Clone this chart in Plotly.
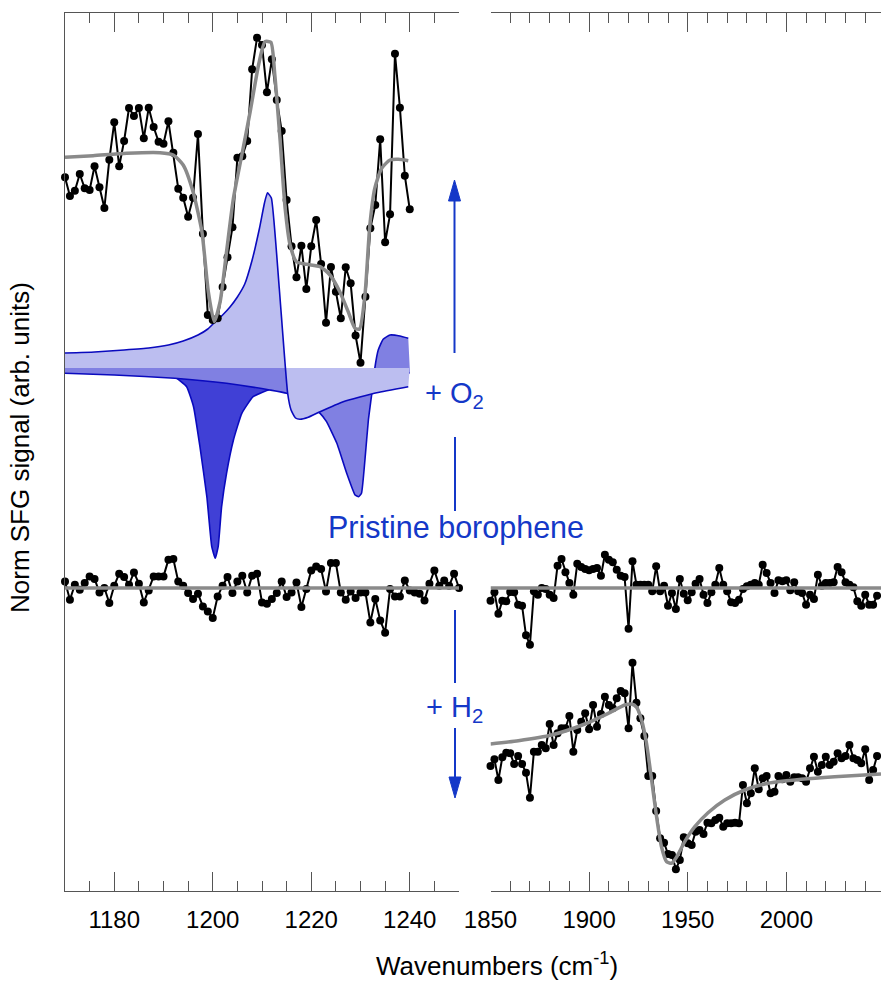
import plotly.graph_objects as go

# ---------------------------------------------------------------
# Wavenumber grids (cm^-1)
# ---------------------------------------------------------------
wn_o2 = list(range(1170, 1241))            # O2-exposed, low-frequency window
wn_pristine_low = list(range(1170, 1251))  # pristine, low-frequency window
wn_high = [1850 + 2 * i for i in range(99)]  # high-frequency window (2 cm^-1 step)

# Vertical offsets used to stack the spectra
OFFSET_O2 = 2.20
OFFSET_PRISTINE = 0.0
OFFSET_H2 = -2.00

# ---------------------------------------------------------------
# + O2 spectrum (1170-1240 cm^-1), relative to its offset
# ---------------------------------------------------------------
sfg_o2 = [
    1.907, 1.720, 1.773, 1.940, 1.797, 1.780, 2.017, 1.807, 1.600, 2.083,
    2.457, 2.017, 2.270, 2.600, 2.520, 2.600, 2.297, 2.603, 2.410, 2.263,
    2.243, 2.467, 2.153, 1.793, 1.703, 1.513, 1.703, 2.340, 1.343, 0.530,
    0.480, 0.497, 0.810, 1.107, 1.407, 2.103, 2.117, 2.270, 2.987, 3.303,
    3.230, 2.757, 3.087, 2.680, 2.370, 1.680, 1.217, 0.907, 1.223, 0.790,
    1.217, 1.480, 1.040, 0.453, 1.010, 0.763, 0.497, 1.007, 0.847, 0.325,
    0.053, 0.713, 1.397, 1.630, 2.287, 1.257, 1.537, 3.143, 2.603, 1.923,
    1.587,
]

fit_o2_wn = [1170, 1175.7, 1182.5, 1189.3, 1192, 1194, 1196, 1197.8, 1199.1,
             1200.3, 1201.5, 1202.8, 1204.2, 1205.9, 1207.6, 1209.3, 1210.6,
             1211.8, 1212.6, 1213.7, 1214.7, 1215.7, 1217, 1219.1, 1221.8,
             1223.8, 1225.8, 1227.5, 1228.9, 1229.8, 1230.9, 1231.9, 1232.9,
             1234.3, 1236, 1237.7, 1239.7]
fit_o2 = [2.107, 2.123, 2.147, 2.153, 2.130, 2.030, 1.763, 1.363, 0.763,
          0.463, 0.663, 1.163, 1.697, 2.130, 2.563, 3.030, 3.263,
          3.257, 2.930, 2.263, 1.597, 1.230, 1.063, 1.037, 1.013,
          0.930, 0.763, 0.563, 0.397, 0.390, 0.730, 1.430, 1.797,
          1.997, 2.080, 2.087, 2.073]

# Resonance components of the O2 fit: A (light), B (dark), C (medium)
comp_a_wn = [1170, 1176, 1182, 1187, 1191, 1194, 1197, 1199, 1200.5, 1202,
             1203.5, 1205, 1206.5, 1208, 1209.5, 1210.5, 1211.1, 1211.9,
             1213.5, 1215.2, 1215.9, 1216.8, 1217.7, 1219.4, 1221.8, 1226.5,
             1233.3, 1239.7]
comp_a = [0.150, 0.160, 0.180, 0.200, 0.230, 0.270, 0.330, 0.390, 0.463, 0.530,
          0.610, 0.710, 0.840, 1.080, 1.400, 1.650, 1.753, 1.700,
          0.800, -0.250, -0.420, -0.500, -0.513, -0.493, -0.437, -0.337,
          -0.247, -0.187]

comp_b_wn = [1170, 1180, 1188, 1192.3, 1194.7, 1196.1, 1197.4, 1198.8, 1199.8,
             1200.5, 1201.1, 1201.8, 1202.8, 1204.2, 1205.9, 1208.2, 1211.6,
             1215, 1220, 1230, 1240]
comp_b = [-0.040, -0.055, -0.075, -0.093, -0.187, -0.387, -0.787, -1.287, -1.787,
          -1.903, -1.787, -1.387, -1.053, -0.720, -0.453, -0.287, -0.215,
          -0.190, -0.120, -0.070, -0.050]

comp_c_wn = [1170, 1180, 1192.3, 1202.8, 1211.6, 1215, 1218.5, 1221.8, 1223.1,
             1225.2, 1227.2, 1228.9, 1229.6, 1230.2, 1230.9, 1231.6, 1232.3,
             1232.9, 1233.6, 1234.6, 1236.0, 1238.0, 1239.7]
comp_c = [-0.053, -0.070, -0.103, -0.153, -0.220, -0.253, -0.340, -0.453, -0.537,
          -0.753, -1.053, -1.270, -1.287, -1.253, -0.920, -0.520, -0.253,
          -0.003, 0.180, 0.287, 0.330, 0.320, 0.297]

# ---------------------------------------------------------------
# Pristine borophene
# ---------------------------------------------------------------
sfg_pristine_low = [
    0.066, -0.117, 0.033, -0.017, 0.050, 0.116, 0.090, -0.044, 0.000, -0.150,
    0.023, 0.143, 0.110, 0.033, 0.156, 0.043, -0.144, -0.024, 0.116, 0.116,
    0.116, 0.283, 0.290, 0.066, 0.023, -0.050, -0.110, -0.057, -0.184, -0.234,
    -0.300, -0.084, 0.023, 0.110, -0.050, 0.066, 0.123, -0.044, 0.123, 0.143,
    -0.144, -0.157, -0.110, -0.050, 0.066, -0.090, -0.044, 0.056, -0.190, -0.010,
    0.176, 0.216, 0.190, -0.034, 0.250, 0.250, -0.044, -0.117, -0.034, -0.100,
    -0.044, -0.044, -0.344, -0.110, -0.324, -0.447, -0.010, -0.084, -0.084, 0.076,
    -0.024, -0.044, -0.057, -0.124, 0.043, 0.176, 0.023, 0.076, 0.023, 0.143,
    0.000,
]

sfg_pristine_high = [
    -0.127, -0.043, -0.257, -0.127, -0.133, -0.040, -0.043, -0.167, -0.177, -0.473,
    -0.567, -0.033, -0.067, 0.000, -0.010, -0.067, -0.100, 0.223, 0.290, 0.157,
    0.050, -0.067, 0.243, 0.210, 0.190, 0.177, 0.190, 0.200, 0.123, 0.333,
    0.283, 0.257, 0.183, 0.123, 0.110, -0.407, 0.267, 0.033, 0.033, 0.033,
    0.033, -0.033, 0.217, -0.033, 0.023, -0.177, -0.050, -0.210, 0.090, -0.057,
    -0.123, -0.043, 0.043, 0.090, -0.067, -0.150, -0.043, 0.033, 0.200, 0.033,
    -0.033, -0.143, -0.150, -0.117, -0.010, 0.017, 0.033, 0.050, 0.033, 0.233,
    0.150, 0.050, -0.050, 0.077, 0.067, 0.077, -0.023, 0.057, -0.033, -0.050,
    -0.167, -0.067, -0.110, 0.133, 0.023, 0.050, 0.050, 0.057, 0.210, 0.157,
    0.057, 0.033, 0.007, -0.133, -0.177, -0.067, -0.167, -0.167, -0.077,
]

# ---------------------------------------------------------------
# + H2 spectrum (1850-2046 cm^-1), relative to its offset
# ---------------------------------------------------------------
sfg_h2 = [
    0.220, 0.287, 0.080, 0.307, 0.353, 0.347, 0.240, 0.320, 0.240, 0.153,
    -0.097, 0.363, 0.363, 0.430, 0.397, 0.640, 0.430, 0.547, 0.597, 0.597,
    0.720, 0.363, 0.580, 0.663, 0.747, 0.587, 0.830, 0.613, 0.740, 0.913,
    0.830, 0.797, 0.897, 0.970, 0.947, 0.597, 1.253, 0.853, 0.697, 0.520,
    0.120, 0.120, -0.230, -0.503, -0.547, -0.660, -0.670, -0.813, -0.720, -0.493,
    -0.553, -0.570, -0.437, -0.420, -0.460, -0.347, -0.353, -0.320, -0.297, -0.387,
    -0.353, -0.353, -0.347, -0.353, 0.030, -0.153, -0.053, 0.197, -0.013, 0.097,
    0.120, -0.053, -0.037, 0.120, 0.087, 0.130, 0.063, 0.107, 0.107, 0.097,
    0.063, 0.197, 0.313, 0.163, 0.230, 0.313, 0.230, 0.263, 0.347, 0.297,
    0.320, 0.430, 0.297, 0.280, 0.247, 0.387, 0.080, 0.180, 0.320,
]

fit_h2_wn = [1850, 1864.1, 1881.0, 1897.9, 1909.7, 1918.1, 1921.5, 1924.1,
             1926.6, 1929.1, 1931.7, 1934.2, 1936.7, 1939.3, 1941.8, 1944.3,
             1948.5, 1953.6, 1960.3, 1968.8, 1978.9, 1990.7, 2007.6, 2024.5,
             2048]
fit_h2 = [0.440, 0.473, 0.530, 0.640, 0.747, 0.830, 0.840, 0.807,
          0.680, 0.447, 0.080, -0.287, -0.587, -0.737, -0.753, -0.693,
          -0.537, -0.387, -0.247, -0.120, -0.020, 0.047, 0.087, 0.113,
          0.140]

# ---------------------------------------------------------------
# Styling
# ---------------------------------------------------------------
FONT = "Liberation Sans, Arial, sans-serif"
BLUE = "#1438c8"
OUTLINE = "#0a0abe"
LIGHT = "#bcbef0"
MEDIUM = "#8080e2"
DARK = "#4040d6"
AXIS = "#555555"
FIT = "#8a8a8a"

W, H = 881, 984
ML, MR, MT, MB = 65, 0, 13, 93
PW, PH = W - ML - MR, H - MT - MB


def px(x):
    return (x - ML) / PW


def py(y):
    return (H - MB - y) / PH


def shift(vals, off):
    return [v + off for v in vals]


fig = go.Figure()

# Shaded resonance components (each filled down to the O2 baseline)
for wn, comp, color in [(comp_b_wn, comp_b, DARK),
                        (comp_c_wn, comp_c, MEDIUM),
                        (comp_a_wn, comp_a, LIGHT)]:
    fig.add_trace(go.Scatter(x=[1170, 1240], y=[OFFSET_O2, OFFSET_O2],
                             mode="lines", line=dict(width=0, color=color),
                             hoverinfo="skip", showlegend=False))
    fig.add_trace(go.Scatter(x=wn, y=shift(comp, OFFSET_O2), mode="lines",
                             fill="tonexty", fillcolor=color,
                             line=dict(color=OUTLINE, width=1.6,
                                       shape="spline", smoothing=0.4),
                             showlegend=False))

data_style = dict(mode="lines+markers",
                  line=dict(color="black", width=2),
                  marker=dict(color="black", size=8),
                  cliponaxis=False, showlegend=False)
fit_style = dict(mode="lines",
                 line=dict(color=FIT, width=3.5, shape="spline", smoothing=0.6),
                 showlegend=False)

# + O2
fig.add_trace(go.Scatter(x=wn_o2, y=shift(sfg_o2, OFFSET_O2), **data_style))
fig.add_trace(go.Scatter(x=fit_o2_wn, y=shift(fit_o2, OFFSET_O2), **fit_style))

# Pristine, both windows
fig.add_trace(go.Scatter(x=wn_pristine_low,
                         y=shift(sfg_pristine_low, OFFSET_PRISTINE), **data_style))
fig.add_trace(go.Scatter(x=[1170, 1250], y=[OFFSET_PRISTINE] * 2, **fit_style))
fig.add_trace(go.Scatter(x=wn_high, y=shift(sfg_pristine_high, OFFSET_PRISTINE),
                         xaxis="x2", **data_style))
fig.add_trace(go.Scatter(x=[1850, 2048], y=[OFFSET_PRISTINE] * 2, xaxis="x2",
                         **fit_style))

# + H2
fig.add_trace(go.Scatter(x=wn_high, y=shift(sfg_h2, OFFSET_H2), xaxis="x2",
                         **data_style))
fig.add_trace(go.Scatter(x=fit_h2_wn, y=shift(fit_h2, OFFSET_H2), xaxis="x2",
                         **fit_style))

tickfont = dict(family=FONT, size=24, color="black")
common_x = dict(showline=True, linecolor=AXIS, linewidth=1, mirror="ticks",
                ticks="inside", ticklen=19, tickwidth=1, tickcolor=AXIS,
                showgrid=False, zeroline=False, tickfont=tickfont,
                anchor="y", ticklabelstandoff=7)

fig.update_layout(
    width=W, height=H,
    margin=dict(l=ML, r=MR, t=MT, b=MB, pad=0),
    paper_bgcolor="white", plot_bgcolor="white",
    showlegend=False,
    xaxis=dict(domain=[0, px(459)], range=[1170, 1250],
               tickmode="array", tickvals=[1180, 1200, 1220, 1240],
               minor=dict(ticks="inside", ticklen=10, tickcolor=AXIS,
                          tick0=1170, dtick=5, showgrid=False),
               **common_x),
    xaxis2=dict(domain=[px(490.5), 1], range=[1850, 2048],
                tickmode="array", tickvals=[1850, 1900, 1950, 2000],
                minor=dict(ticks="inside", ticklen=10, tickcolor=AXIS,
                           tick0=1850, dtick=10, showgrid=False),
                **common_x),
    yaxis=dict(domain=[0, 1], range=[-3.03, 5.75], showline=True,
               linecolor=AXIS, linewidth=1, ticks="", showticklabels=False,
               showgrid=False, zeroline=False),
)

# Arrows and separators between the stacked spectra
line_style = dict(color=BLUE, width=2)
shapes = [
    dict(type="line", xref="paper", yref="paper",
         x0=px(454.5), x1=px(454.5), y0=py(353), y1=py(199), line=line_style),
    dict(type="path", xref="paper", yref="paper",
         path=f"M{px(454.5)},{py(180)} L{px(448.5)},{py(201)} "
              f"L{px(460.5)},{py(201)} Z",
         fillcolor=BLUE, line=dict(color=BLUE, width=1)),
    dict(type="line", xref="paper", yref="paper",
         x0=px(455), x1=px(455), y0=py(437), y1=py(511), line=line_style),
    dict(type="line", xref="paper", yref="paper",
         x0=px(455), x1=px(455), y0=py(610), y1=py(683), line=line_style),
    dict(type="line", xref="paper", yref="paper",
         x0=px(455), x1=px(455), y0=py(728), y1=py(778), line=line_style),
    dict(type="path", xref="paper", yref="paper",
         path=f"M{px(455)},{py(798)} L{px(449)},{py(777)} "
              f"L{px(461)},{py(777)} Z",
         fillcolor=BLUE, line=dict(color=BLUE, width=1)),
]
fig.update_layout(shapes=shapes)

label_font = dict(family=FONT, size=29, color=BLUE)
title_font = dict(family=FONT, size=26, color="black")
annotations = [
    dict(text="+ O<sub>2</sub>", x=px(454), y=py(395), font=label_font),
    dict(text="+ H<sub>2</sub>", x=px(454), y=py(709), font=label_font),
    dict(text="Pristine borophene", x=px(456), y=py(527),
         font=dict(family=FONT, size=30.5, color=BLUE)),
    dict(text="Wavenumbers (cm<sup>-1</sup>)", x=px(497), y=py(964),
         font=title_font),
    dict(text="Norm SFG signal (arb. units)", x=px(20), y=py(448),
         textangle=-90, font=title_font),
]
for a in annotations:
    a.update(xref="paper", yref="paper", showarrow=False,
             xanchor="center", yanchor="middle")
fig.update_layout(annotations=annotations)

fig.write_html("out.html")
